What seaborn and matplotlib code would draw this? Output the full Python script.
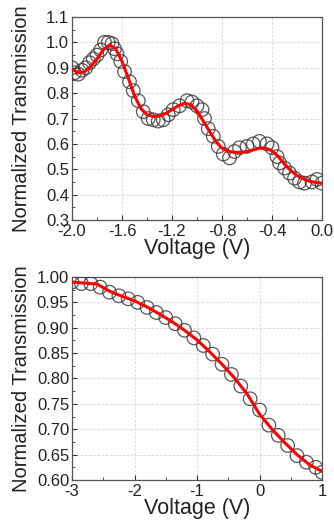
import numpy as np; import pandas as pd; import matplotlib
matplotlib.use("Agg")
import matplotlib.pyplot as plt; import seaborn as sns
from matplotlib.ticker import MultipleLocator, FormatStrFormatter

# --- top panel: measured points (circles) and fit (red) ---
top_x = [-2.00, -1.98, -1.95, -1.92, -1.89, -1.86, -1.83, -1.80, -1.77, -1.74, -1.71, -1.68,
         -1.66, -1.64, -1.61, -1.58, -1.54, -1.51, -1.47, -1.43, -1.39, -1.35, -1.31, -1.27,
         -1.23, -1.19, -1.14, -1.08, -1.04, -1.00, -0.96, -0.94, -0.91, -0.87, -0.83, -0.79,
         -0.74, -0.70, -0.66, -0.60, -0.55, -0.50, -0.44, -0.40, -0.36, -0.34, -0.30, -0.26,
         -0.22, -0.18, -0.14, -0.08, -0.04, 0.00]
top_y = [0.900, 0.880, 0.875, 0.890, 0.900, 0.920, 0.935, 0.950, 0.970, 1.000, 1.000, 0.995,
         0.975, 0.955, 0.925, 0.885, 0.845, 0.810, 0.770, 0.727, 0.700, 0.695, 0.690, 0.695,
         0.715, 0.735, 0.750, 0.770, 0.765, 0.750, 0.735, 0.700, 0.660, 0.630, 0.590, 0.560,
         0.545, 0.570, 0.585, 0.590, 0.600, 0.610, 0.600, 0.585, 0.550, 0.525, 0.505, 0.485,
         0.465, 0.450, 0.445, 0.450, 0.460, 0.445]
top_fit_x = [-2.00, -1.95, -1.90, -1.85, -1.80, -1.75, -1.70, -1.65, -1.60, -1.55, -1.50,
             -1.45, -1.40, -1.35, -1.30, -1.25, -1.20, -1.15, -1.10, -1.05, -1.00, -0.95,
             -0.90, -0.85, -0.80, -0.75, -0.70, -0.65, -0.60, -0.55, -0.50, -0.45, -0.40,
             -0.35, -0.30, -0.25, -0.20, -0.15, -0.10, -0.05, 0.00]
top_fit_y = [0.895, 0.880, 0.885, 0.905, 0.935, 0.970, 0.990, 0.975, 0.925, 0.860, 0.790,
             0.740, 0.715, 0.708, 0.710, 0.720, 0.735, 0.750, 0.760, 0.755, 0.730, 0.690,
             0.650, 0.610, 0.583, 0.570, 0.567, 0.567, 0.570, 0.577, 0.583, 0.583, 0.573,
             0.550, 0.520, 0.495, 0.475, 0.462, 0.453, 0.448, 0.445]

# --- bottom panel ---
bot_x = [-3.0, -2.85, -2.7, -2.55, -2.4, -2.25, -2.1, -1.95, -1.8, -1.65, -1.5, -1.35, -1.2,
         -1.05, -0.9, -0.75, -0.6, -0.45, -0.3, -0.15, 0.0, 0.15, 0.3, 0.45, 0.6, 0.75, 0.9, 1.0]
bot_y = [0.990, 0.987, 0.987, 0.980, 0.970, 0.963, 0.957, 0.950, 0.940, 0.930, 0.920, 0.908,
         0.895, 0.880, 0.865, 0.848, 0.828, 0.808, 0.785, 0.760, 0.738, 0.708, 0.688, 0.668,
         0.648, 0.635, 0.625, 0.615]
bot_fit_x = [-3.0, -2.8, -2.6, -2.4, -2.2, -2.0, -1.8, -1.6, -1.4, -1.2, -1.0, -0.8, -0.6,
             -0.4, -0.2, 0.0, 0.2, 0.4, 0.6, 0.8, 1.0]
bot_fit_y = [0.990, 0.988, 0.986, 0.972, 0.962, 0.953, 0.941, 0.927, 0.912, 0.895, 0.876,
             0.853, 0.828, 0.801, 0.770, 0.730, 0.700, 0.674, 0.650, 0.630, 0.617]

sns.set_style("ticks")
plt.rcParams['font.family'] = ['Liberation Sans', 'DejaVu Sans']

fig = plt.figure(figsize=(3.34, 5.27), dpi=100)
ax1 = fig.add_axes([0.2156, 0.5825, 0.7485, 0.3852])
ax2 = fig.add_axes([0.2156, 0.0892, 0.7485, 0.3852])

def draw(ax, x, y, fx, fy, xlim, ylim, xmaj, xmin, ymaj, ymin, xfmt, yfmt):
    pts = pd.DataFrame({"V": x, "T": y})
    fit = pd.DataFrame({"V": fx, "T": fy})
    sns.scatterplot(data=pts, x="V", y="T", ax=ax, marker="o", s=95, facecolor="none",
                    edgecolor="#3a3a3a", linewidth=0.9, alpha=0.85, zorder=3)
    sns.lineplot(data=fit, x="V", y="T", ax=ax, color="#ff0000", linewidth=2.2, zorder=4,
                 sort=False)
    ax.set_xlim(*xlim); ax.set_ylim(*ylim)
    ax.xaxis.set_major_locator(MultipleLocator(xmaj)); ax.xaxis.set_minor_locator(MultipleLocator(xmin))
    ax.yaxis.set_major_locator(MultipleLocator(ymaj)); ax.yaxis.set_minor_locator(MultipleLocator(ymin))
    ax.xaxis.set_major_formatter(FormatStrFormatter(xfmt)); ax.yaxis.set_major_formatter(FormatStrFormatter(yfmt))
    ax.grid(True, which="major", color="#d4d4d4", linestyle=(0, (3, 2)), linewidth=0.6, zorder=0)
    ax.tick_params(which="both", direction="in", labelsize=12, colors="#333333",
                   labelcolor="#222222")
    ax.tick_params(axis="y", pad=2)
    ax.tick_params(axis="x", pad=3)
    ax.tick_params(which="major", length=3.5, width=0.8)
    ax.tick_params(which="minor", length=2, width=0.6)
    for s in ax.spines.values():
        s.set_color("#555555"); s.set_linewidth(0.9)
    ax.set_xlabel("Voltage (V)", fontsize=15.5, color="#222222", labelpad=-1)
    ax.set_ylabel("Normalized Transmission", fontsize=14.5, color="#222222")
    ax.yaxis.set_label_coords(-0.165, 0.5)

draw(ax1, top_x, top_y, top_fit_x, top_fit_y, (-2.0, 0.0), (0.3, 1.1), 0.4, 0.2, 0.1, 0.05, "%.1f", "%.1f")
draw(ax2, bot_x, bot_y, bot_fit_x, bot_fit_y, (-3, 1), (0.6, 1.0), 1, 0.5, 0.05, 0.025, "%d", "%.2f")

fig.savefig("out.png", dpi=100)
